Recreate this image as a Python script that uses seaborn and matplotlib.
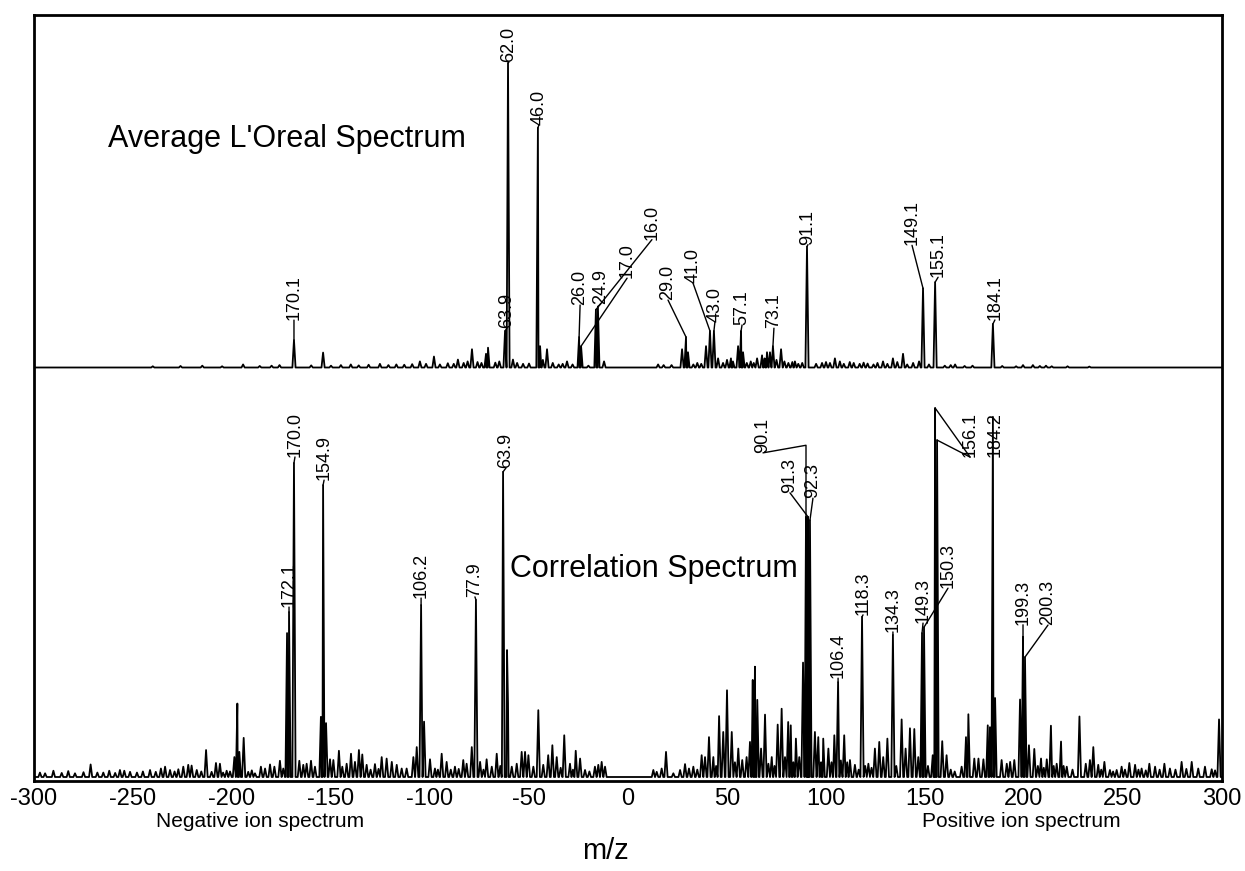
import matplotlib
matplotlib.use("Agg")
import matplotlib.pyplot as plt
import seaborn as sns
import pandas as pd
import numpy as np

# ---------------- data (m/z, relative intensity %) ----------------
# Average L'Oreal spectrum (negative ions plotted at -m/z)
top_major = [(-168.7, 9.0), (-154.0, 4.9), (-105.1, 2.0), (-98.0, 3.6), (-85.9, 2.6),
             (-78.8, 6.0), (-71.7, 4.5), (-70.7, 6.5), (-62.1, 12.0), (-60.6, 100.0),
             (-58.1, 2.6), (-45.5, 78.7), (-44.4, 7.0), (-40.9, 6.0), (-30.8, 2.0),
             (-24.7, 10.0), (-23.7, 7.0), (-16.2, 19.0), (-15.2, 20.0), (-12.1, 2.0),
             (15.2, 1.0), (27.3, 6.0), (29.3, 10.0), (30.3, 5.0), (39.4, 7.0),
             (41.4, 12.0), (43.4, 12.0), (45.5, 3.0), (52.0, 3.0), (55.6, 7.0),
             (57.1, 12.0), (58.1, 5.0), (65.2, 3.0), (67.7, 4.0), (70.2, 5.0),
             (71.7, 5.0), (73.2, 7.0), (77.3, 6.0), (84.3, 2.0), (90.4, 39.7),
             (104.5, 3.0), (107.0, 2.0), (128.8, 2.0), (133.8, 3.0), (138.9, 4.5),
             (147.0, 2.0), (149.0, 26.0), (155.1, 28.0), (165.2, 1.0), (184.3, 14.3),
             (199.5, 0.8), (204.5, 0.8), (211.1, 0.6)]
top_noise = [(-240, 0.4), (-226, 0.5), (-215, 0.6), (-205, 0.4), (-194.4, 1.0), (-186, 0.5),
             (-180, 0.6), (-176, 0.8), (-160, 0.7), (-150, 0.6), (-145, 0.8), (-140, 1.0),
             (-136, 0.7), (-131, 0.9), (-125.3, 1.2), (-121, 0.8), (-117, 1.0), (-113, 0.9),
             (-109, 1.1), (-102, 1.2), (-95, 1.0), (-91, 1.4), (-88, 1.2), (-83, 1.5),
             (-81, 2.0), (-76, 1.8), (-74, 1.5), (-67, 1.6), (-65, 2.0), (-56, 1.5),
             (-53, 1.2), (-50, 1.3), (-43, 2.5), (-38, 1.5), (-35, 1.0), (-33, 1.2),
             (-28, 1.0), (-20, 0.6), (18, 0.8), (22, 0.8), (33, 1.0), (35, 1.5), (37, 1.2),
             (48, 1.5), (50, 2.5), (53, 2.0), (60, 1.5), (62, 2.0), (63.5, 1.5), (69, 3.0),
             (75, 2.5), (79, 2.0), (81, 1.5), (83, 1.8), (86, 1.2), (88, 1.5), (95, 1.2),
             (98, 1.5), (100, 1.8), (102, 1.5), (109, 1.2), (112, 1.8), (114, 1.5),
             (117, 1.2), (119, 1.6), (121, 1.3), (124, 1.0), (126, 1.5), (131, 1.2),
             (136, 1.8), (141, 1.0), (144, 1.5), (152, 1.0), (160, 0.6), (163, 0.8),
             (170, 0.5), (174, 0.6), (189, 0.5), (196, 0.4), (208, 0.5), (214, 0.4),
             (222, 0.4), (233, 0.3)]

# Correlation spectrum
bottom_major = [(-172.2, 39.0), (-171.2, 44.7), (-168.7, 85.1), (-155.1, 16.3), (-154.0, 79.1),
                (-152.5, 14.6), (-104.5, 46.6), (-103.0, 15.0), (-76.8, 48.0), (-63.1, 82.7),
                (-61.1, 34.4), (-60.6, 20.0), (88.4, 31.0), (89.9, 70.5), (90.9, 70.5),
                (91.9, 69.6), (106.1, 25.7), (118.2, 43.4), (133.8, 38.5), (148.5, 39.0),
                (149.5, 40.6), (155.1, 100.0), (156.1, 91.3), (182.8, 13.5), (184.3, 97.6),
                (185.4, 21.4), (198.0, 21.0), (199.5, 38.0), (200.5, 32.5)]
bottom_noise = [
    (-297, 1.2), (-294.4, 1.0), (-290.2, 1.7), (-286, 1.1), (-282.7, 1.6), (-279.3, 1.0),
    (-275, 1.3), (-271.4, 3.4), (-268, 1.2), (-265, 1.2), (-262, 1.7), (-259, 1.1),
    (-256.6, 1.9), (-254.4, 1.7), (-251.5, 1.4), (-248, 1.2), (-245, 1.5), (-241.4, 1.9),
    (-238.5, 1.4), (-235.9, 2.3), (-233.8, 2.8), (-231.3, 1.9), (-229, 1.5), (-227.1, 2.1),
    (-224.6, 2.8), (-222.1, 3.3), (-220.4, 3.1), (-217.8, 1.9), (-215.5, 1.5), (-213.1, 7.3),
    (-210.3, 1.4), (-208.1, 3.8), (-206.1, 3.6), (-204.5, 1.2), (-202.7, 1.7), (-201, 1.5),
    (-198.8, 5.4), (-197.3, 19.9), (-196.3, 6.8), (-194.1, 10.6), (-191.8, 1.4), (-190, 1.8),
    (-188.4, 1.0), (-185.4, 2.8), (-183.3, 2.3), (-180.8, 3.4), (-178.6, 2.8), (-175.8, 4.4),
    (-174.1, 2.3), (-166, 4.4), (-164, 3.3), (-162.3, 3.6), (-160.1, 4.4), (-158.1, 2.8),
    (-150.5, 4.8), (-148.8, 4.6), (-146, 7.1), (-144.3, 2.8), (-142.1, 3.6), (-139.9, 6.3),
    (-137.9, 4.1), (-135.9, 7.3), (-134.2, 6.1), (-132, 3.3), (-130, 2.0), (-127.8, 3.5),
    (-126, 2.2), (-124.4, 5.4), (-121.9, 5.0), (-119.3, 4.1), (-116.8, 3.3), (-114.3, 2.3),
    (-111.8, 2.3), (-108.4, 5.4), (-106.7, 8.1), (-100, 4.8), (-97.5, 2.3), (-96, 2.0),
    (-94.1, 6.3), (-91.6, 4.1), (-89.5, 2.0), (-87.4, 2.8), (-85.5, 2.2), (-83.2, 4.6),
    (-81.5, 3.6), (-78.9, 8.1), (-74.7, 4.1), (-73, 2.0), (-71.4, 4.8), (-68.8, 2.8),
    (-66.3, 6.3), (-64.5, 3.0), (-58.7, 2.8), (-56.2, 3.6), (-53.7, 6.8), (-52, 6.8),
    (-50.3, 5.9), (-47.8, 2.8), (-45.3, 18.1), (-42.8, 3.3), (-40.3, 5.9), (-38.2, 8.6),
    (-36, 5.4), (-34, 2.5), (-32.2, 11.3), (-29.3, 3.6), (-27.8, 2.0), (-26.4, 7.1),
    (-24.2, 5.0), (-21.7, 1.9), (-19.5, 1.5), (-16.7, 2.8), (-15, 3.3), (-13.3, 4.1),
    (-11.6, 2.8),
    (12.8, 1.9), (14.5, 1.4), (17, 2.3), (19.2, 6.8), (22.9, 1.0), (26.3, 1.9), (28.8, 3.5),
    (30.8, 2.3), (33, 2.8), (35, 2.0), (37.2, 5.9), (38.9, 5.4), (40.9, 10.8), (43.1, 5.4),
    (44.5, 3.0), (46, 16.5), (48.1, 12.2), (50, 23.5), (52.4, 12.2), (54, 4.0), (55.7, 7.7),
    (57.7, 4.6), (59.9, 5.4), (61.6, 9.5), (63, 26.3), (64.1, 29.9), (65.3, 20.9),
    (67.2, 7.7), (69.2, 16.9), (70.9, 3.6), (72.6, 5.4), (74, 3.0), (75.6, 14.2),
    (77.6, 18.5), (79.3, 5.4), (80.9, 14.9), (82.2, 14.0), (83.5, 4.0), (84.8, 10.4),
    (86.5, 5.4), (94.4, 12.2), (96.1, 10.8), (97.5, 4.0), (98.6, 10.4), (101.2, 7.7),
    (102.8, 4.0), (104.2, 11.3), (107.5, 4.5), (109.2, 11.3), (110.7, 4.0), (112.1, 4.6),
    (114.6, 3.3), (116.5, 2.0), (119.8, 3.0), (121.4, 3.6), (123, 2.5), (124.7, 7.7),
    (126.9, 9.5), (128.9, 5.4), (131, 10.4), (135.5, 3.0), (138.2, 15.6), (140.2, 7.7),
    (142.4, 13.2), (144.6, 13.0), (146.6, 5.4), (151.5, 3.0), (153.9, 5.9), (158.7, 9.7),
    (160.9, 5.9), (163, 2.0), (165, 1.5), (168.5, 2.8), (170.7, 10.8), (171.9, 17.0),
    (174.9, 5.0), (177, 5.0), (179.5, 4.8), (181.7, 14.0), (188.7, 4.6), (191.3, 3.6),
    (193, 4.1), (195.1, 4.6), (202.5, 8.6), (205.2, 7.6), (207, 3.0), (208.6, 5.0),
    (210, 2.5), (211.5, 4.8), (213.6, 13.9), (215, 3.0), (216.5, 3.6), (218.7, 9.6),
    (220, 3.0), (221.6, 2.8), (224.5, 2.0), (228, 16.4), (231.2, 3.6), (233.3, 4.6),
    (235, 8.1), (237.5, 3.3), (239, 2.0), (240.6, 4.1), (243.4, 1.9), (245, 1.5),
    (246.8, 1.9), (249.3, 2.8), (251, 2.0), (253.2, 3.8), (256.1, 3.3), (257.8, 2.0),
    (259.4, 2.3), (261.5, 1.8), (263.3, 3.6), (266.2, 2.8), (268.5, 2.0), (270.9, 3.6),
    (273.7, 2.3), (276.5, 2.0), (279.6, 4.1), (282, 2.2), (284.7, 4.1), (288, 2.3),
    (291.4, 2.8), (294.8, 2.1), (296.5, 1.8), (298.5, 15.6)]

# peak labels: text and the peak (m/z position) they annotate
top_label_text = ["170.1", "63.9", "62.0", "46.0", "26.0", "24.9", "17.0", "16.0", "29.0",
                  "41.0", "43.0", "57.1", "73.1", "91.1", "149.1", "155.1", "184.1"]
top_label_peak = [-168.7, -62.1, -60.6, -45.5, -24.7, -15.2, -23.7, -16.2, 29.3,
                  41.4, 43.4, 57.1, 73.2, 90.4, 149.0, 155.1, 184.3]
bot_label_text = ["172.1", "170.0", "154.9", "106.2", "77.9", "63.9", "90.1", "91.3", "92.3",
                  "106.4", "118.3", "134.3", "149.3", "150.3", "156.1", "184.2", "199.3", "200.3"]
bot_label_peak = [-171.2, -168.7, -154.0, -104.5, -76.8, -63.1, 89.9, 90.9, 91.9,
                  106.1, 118.2, 133.8, 148.5, 149.5, 156.1, 184.3, 199.5, 200.5]

x_ticks = [-300, -250, -200, -150, -100, -50, 0, 50, 100, 150, 200, 250, 300]
x_tick_labels = ["-300", "-250", "-200", "-150", "-100", "-50", "0", "50", "100",
                 "150", "200", "250", "300"]

# ---------------- layout / style ----------------
top_label_offset = [(0, 20), (2, 3), (1, 1), (1, 3), (1, 32), (3, 3), (46, 68), (56, 70),
                    (-18, 37), (-17, 48), (1, 9), (1, 6), (1, 18), (1, 2), (-11, 43), (3, 5), (2, 4)]
bot_label_offset = [(0, 5), (1, 6), (1, 5), (0, 7), (-1, 3), (3, 4), (-43, 64), (-18, 24), (3, 22),
                    (0, 4), (1, 2), (0, 3), (1, 10), (24, 39), (33, -17), (2, -40), (0, 12), (23, 32)]
no_leader = {"184.2"}
connections = {"90.1": "angle,angleA=10,angleB=90,rad=0"}
extra_leaders = [("156.1", 155.1)]  # second leader from the 156.1 label

sns.set_style("white")
plt.rcParams["font.family"] = ["Liberation Sans", "DejaVu Sans"]
plt.rcParams["axes.unicode_minus"] = False
plt.rcParams["text.color"] = "black"
plt.rcParams["xtick.color"] = "black"
plt.rcParams["xtick.labelcolor"] = "black"

W, H, DPI = 1245, 871, 100
L, R, T, B = 34, 1222, 15, 781
fig = plt.figure(figsize=(W / DPI, H / DPI), dpi=DPI)
ax = fig.add_axes([L / W, 1 - B / H, (R - L) / W, (B - T) / H])
PX = (R - L) / 600.0

TOP_BASE, TOP_SCALE = B - 367.5, 3.045
BOT_BASE, BOT_SCALE = B - 777.0, 3.69
HALF = 0.8


def profile(peaks, base, scale):
    pts = [(-300.0, base), (300.0, base)]
    for m, h in peaks:
        pts += [(m - HALF, base), (m, base + h * scale), (m + HALF, base)]
    pts.sort(key=lambda p: p[0])
    return pd.DataFrame(pts, columns=["mz", "y"])


for peaks, base, scale in [(top_major + top_noise, TOP_BASE, TOP_SCALE),
                           (bottom_major + bottom_noise, BOT_BASE, BOT_SCALE)]:
    df = profile(peaks, base, scale)
    sns.lineplot(data=df, x="mz", y="y", sort=False, estimator=None,
                 color="black", linewidth=1.3, ax=ax)


def draw_labels(texts, anchors, offsets, peaks, base, scale):
    lookup = dict(peaks)
    pos_of = {}
    for t, m, (dx, dy) in zip(texts, anchors, offsets):
        top = base + lookup[m] * scale
        pos = (m + dx / PX, top + dy)
        pos_of[t] = pos
        arrow = None
        if t not in no_leader:
            arrow = dict(arrowstyle="-", lw=1.0, color="black", shrinkA=0, shrinkB=0,
                         relpos=(0.5, 0.0), patchA=None,
                         connectionstyle=connections.get(t, "arc3"))
        ax.annotate(t, xy=(m, top), xytext=pos, textcoords="data", rotation=90,
                    ha="center", va="bottom", fontsize=13, color="black",
                    arrowprops=arrow, zorder=5)
    return pos_of, lookup


draw_labels(top_label_text, top_label_peak, top_label_offset, top_major, TOP_BASE, TOP_SCALE)
bpos, blook = draw_labels(bot_label_text, bot_label_peak, bot_label_offset, bottom_major,
                          BOT_BASE, BOT_SCALE)
for t, m in extra_leaders:
    ax.annotate("", xy=(m, BOT_BASE + blook[m] * BOT_SCALE), xytext=bpos[t], textcoords="data",
                arrowprops=dict(arrowstyle="-", lw=1.0, color="black", shrinkA=0, shrinkB=0))

# panel titles
ax.text(-262.5, B - 147, "Average L'Oreal Spectrum", fontsize=22, ha="left", va="baseline",
        color="black")
ax.text(-59.5, B - 577, "Correlation Spectrum", fontsize=22, ha="left", va="baseline",
        color="black")

ax.set_xlim(-300, 300)
ax.set_ylim(0, B - T)
ax.set_xticks(x_ticks)
ax.set_xticklabels(x_tick_labels)
ax.set_xticks(np.arange(-300, 301, 2.5), minor=True)
ax.set_yticks([])
ax.set_xlabel("")
ax.set_ylabel("")
ax.tick_params(axis="x", which="major", direction="out", length=5, width=1.4,
               labelsize=17, pad=0, color="black")
ax.tick_params(axis="x", which="minor", direction="in", length=3, width=0.7, color="black")
for s in ax.spines.values():
    s.set_linewidth(2.0)
    s.set_color("black")

fig.text(260 / W, 1 - 821 / H, "Negative ion spectrum", ha="center", va="center", fontsize=15)
fig.text(1021 / W, 1 - 821 / H, "Positive ion spectrum", ha="center", va="center", fontsize=15)
fig.text(605 / W, 1 - 851 / H, "m/z", ha="center", va="center", fontsize=21)

fig.savefig("out.png", dpi=DPI)
